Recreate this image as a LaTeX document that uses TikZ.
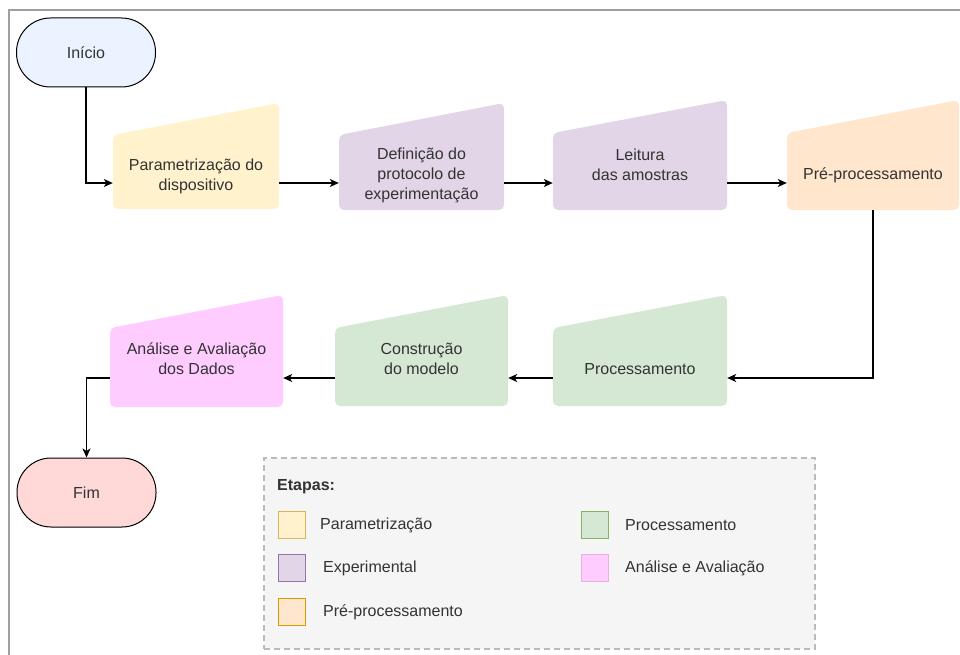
\documentclass[tikz,border=0pt]{standalone}
\usepackage{fontspec}
\setmainfont{Liberation Sans}
\usetikzlibrary{arrows.meta}

\definecolor{yellowF}{HTML}{FFF2CC}\definecolor{yellowS}{HTML}{D6B656}
\definecolor{purpleF}{HTML}{E1D5E7}\definecolor{purpleS}{HTML}{9673A6}
\definecolor{orangeF}{HTML}{FFE6CC}\definecolor{orangeS}{HTML}{D79B00}
\definecolor{greenF}{HTML}{D5E8D4}\definecolor{greenS}{HTML}{82B366}
\definecolor{pinkF}{HTML}{FFCCFF}\definecolor{pinkS}{HTML}{E8AEE8}
\definecolor{startF}{RGB}{234,243,255}
\definecolor{endF}{RGB}{255,216,216}
\definecolor{legendF}{HTML}{F5F5F5}\definecolor{legendS}{HTML}{BBBBBB}
\definecolor{frameS}{HTML}{A0A0A0}
\definecolor{ink}{HTML}{333333}

% manual-input step: slanted top edge, lower on the left
\newcommand{\mibox}[6]{% left, right, top-right, top-left, bottom, fill
  \fill[#6, rounded corners=5pt] (#1,#5) -- (#1,#4) -- (#2,#3) -- (#2,#5) -- cycle;
}

\tikzset{
  lbl/.style={font=\fontsize{16}{20}\selectfont, text=ink, align=center, inner sep=0pt},
  port/.style={inner sep=0pt, minimum height=#1},
  port/.default=54pt,
  terminal/.style={draw=black, line width=1pt, rounded corners=34pt,
    minimum width=139pt, minimum height=69pt, font=\fontsize{16}{20}\selectfont, text=ink},
  conn/.style={draw=black, line width=1.2pt, -{Stealth[length=9pt,width=8pt,inset=2.5pt]}},
  swatch/.style={line width=1.2pt, minimum width=27pt, minimum height=27pt, inner sep=0pt},
  legtext/.style={font=\fontsize{16}{20}\selectfont, text=ink, anchor=west, inner sep=0pt}
}

\begin{document}
\begin{tikzpicture}[x=1pt, y=-1pt]
\useasboundingbox (0,0) rectangle (960,655);

% outer frame (top and left edges)
\draw[frameS, line width=1.3pt] (9,655) -- (9,10) -- (960,10);

% step shapes
\mibox{113}{279}{103}{135}{209}{yellowF}
\mibox{339}{504}{103}{135}{210}{purpleF}
\mibox{553}{727}{100}{133}{210}{purpleF}
\mibox{787}{959}{100}{133}{210}{orangeF}
\mibox{553}{727}{295}{328}{406}{greenF}
\mibox{335}{508}{295}{328}{406}{greenF}
\mibox{110}{283}{295}{328}{407}{pinkF}

% connection ports of the steps
\node[port=52pt, minimum width=166pt] (b1) at (196,183) {};
\node[port, minimum width=165pt] (b2) at (421.5,183) {};
\node[port, minimum width=174pt] (b3) at (640,183) {};
\node[port, minimum width=172pt] (b4) at (873,183) {};
\node[port=56pt, minimum width=174pt] (b5) at (640,378) {};
\node[port=56pt, minimum width=173pt] (b6) at (421.5,378) {};
\node[port=58pt, minimum width=173pt] (b7) at (196.5,378) {};

% step labels
\node[lbl] (t1) at (196,176) {Parametrização do\\dispositivo};
\node[lbl] (t2) at (421.5,175) {Definição do\\protocolo de\\experimentação};
\node[lbl] (t3) at (640,165) {Leitura\\das amostras};
\node[lbl] (t4) at (873,175) {Pré-processamento};
\node[lbl] (t5) at (640,369) {Processamento};
\node[lbl] (t6) at (421.5,359) {Construção\\do modelo};
\node[lbl] (t7) at (196.5,359) {Análise e Avaliação\\dos Dados};

% start / end
\node[terminal, fill=startF] (start) at (86,52.5) {Início};
\node[terminal, fill=endF] (fim) at (86.5,492.5) {Fim};

% flow
\draw[conn] (start.south) |- (b1.west);
\draw[conn] (b1.east) -- (b2.west);
\draw[conn] (b2.east) -- (b3.west);
\draw[conn] (b3.east) -- (b4.west);
\draw[conn] (b4.south) |- (b5.east);
\draw[conn] (b5.west) -- (b6.east);
\draw[conn] (b6.west) -- (b7.east);
\draw[conn] (b7.west) -| (fim.north);

% legend
\node[draw=legendS, fill=legendF, line width=1.3pt, dash pattern=on 6pt off 4pt,
      minimum width=551pt, minimum height=191pt, inner sep=0pt] (legend) at (539.5,553.5) {};
\node[legtext, font=\fontsize{16}{20}\selectfont\bfseries] (legtitle) at (277,487) {Etapas:};

\node[swatch, draw=yellowS, fill=yellowF] (s1) at (292,525) {};
\node[swatch, draw=purpleS, fill=purpleF] (s2) at (292,568) {};
\node[swatch, draw=orangeS, fill=orangeF] (s3) at (292,612) {};
\node[swatch, draw=greenS, fill=greenF] (s4) at (595,525) {};
\node[swatch, draw=pinkS, fill=pinkF] (s5) at (595,568) {};

\node[legtext] (l1) at (320,525) {Parametrização};
\node[legtext] (l2) at (323,568) {Experimental};
\node[legtext] (l3) at (323,612) {Pré-processamento};
\node[legtext] (l4) at (625,525) {Processamento};
\node[legtext] (l5) at (625,568) {Análise e Avaliação};
\end{tikzpicture}
\end{document}
